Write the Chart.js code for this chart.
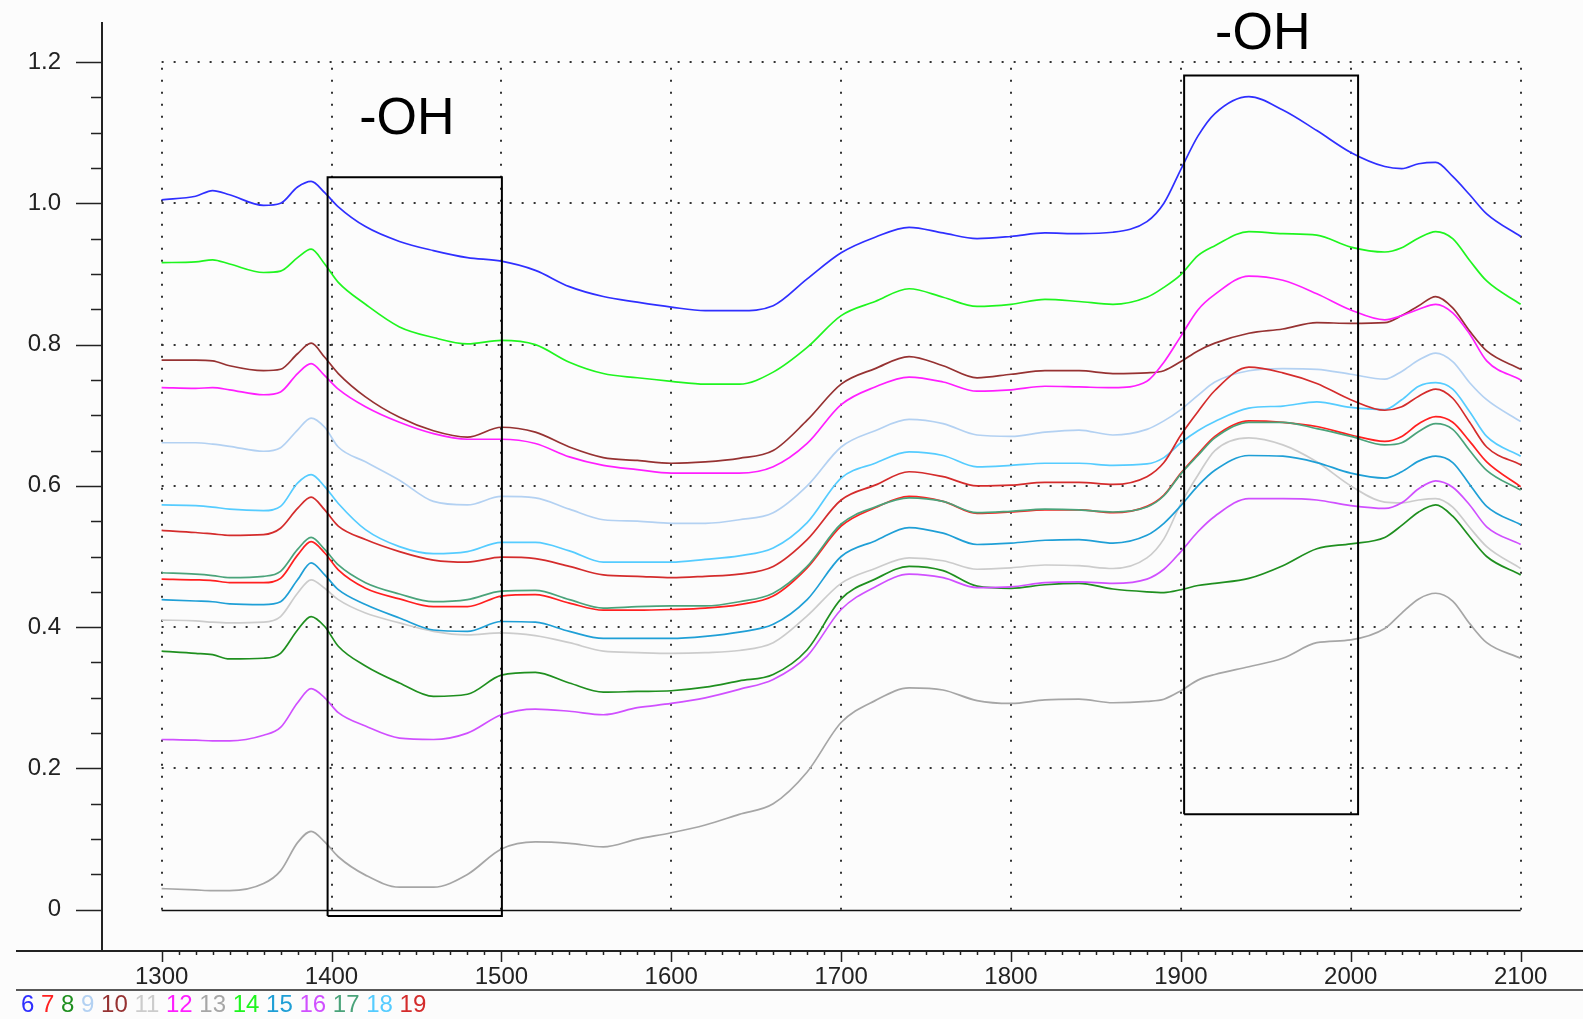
<!DOCTYPE html>
<html>
<head>
<meta charset="utf-8">
<title>NIR spectra 1300-2100 nm</title>
<script src="https://cdn.jsdelivr.net/npm/chart.js@4.4.1/dist/chart.umd.min.js"></script>
<style>
  html, body { margin: 0; padding: 0; background: #fcfcfc; }
  #wrap { position: relative; width: 1583px; height: 1019px; }
</style>
</head>
<body>
<div id="wrap"><canvas id="spectra"></canvas></div>
<script>
// wavelength grid (nm) shared by every spectrum
const wavelengths = [1300,1320,1330,1340,1360,1370,1380,1388,1396,1404,1420,1440,1460,1480,1500,1520,1540,1560,1580,1600,1620,1640,1660,1680,1700,1720,1740,1760,1780,1800,1820,1840,1860,1880,1890,1900,1910,1920,1940,1960,1980,2000,2020,2030,2040,2050,2060,2070,2080,2100];

const s6  = [1.005,1.010,1.018,1.012,0.997,1.000,1.023,1.031,1.015,0.995,0.967,0.946,0.933,0.923,0.918,0.905,0.882,0.868,0.860,0.853,0.848,0.848,0.855,0.893,0.930,0.952,0.966,0.958,0.950,0.953,0.958,0.957,0.959,0.974,1.000,1.048,1.095,1.127,1.151,1.132,1.103,1.072,1.052,1.049,1.056,1.058,1.038,1.012,0.985,0.953];
const s7  = [0.468,0.467,0.466,0.463,0.463,0.469,0.502,0.521,0.505,0.481,0.455,0.440,0.429,0.429,0.444,0.446,0.434,0.424,0.424,0.425,0.427,0.432,0.444,0.484,0.543,0.569,0.585,0.578,0.561,0.563,0.566,0.566,0.562,0.571,0.587,0.618,0.645,0.670,0.692,0.690,0.684,0.672,0.663,0.670,0.688,0.698,0.690,0.663,0.634,0.599];
const s8  = [0.366,0.363,0.361,0.355,0.356,0.363,0.396,0.415,0.401,0.373,0.345,0.321,0.302,0.305,0.332,0.336,0.321,0.308,0.309,0.310,0.315,0.324,0.333,0.368,0.440,0.468,0.486,0.480,0.458,0.455,0.460,0.462,0.454,0.450,0.449,0.453,0.459,0.462,0.469,0.487,0.511,0.518,0.527,0.544,0.563,0.573,0.557,0.528,0.500,0.474];
const s9  = [0.661,0.661,0.659,0.656,0.649,0.654,0.679,0.696,0.683,0.655,0.634,0.608,0.578,0.573,0.585,0.583,0.567,0.552,0.550,0.547,0.547,0.552,0.562,0.600,0.655,0.678,0.694,0.688,0.672,0.670,0.676,0.679,0.672,0.680,0.692,0.708,0.728,0.747,0.763,0.766,0.765,0.758,0.751,0.762,0.778,0.788,0.776,0.746,0.722,0.691];
const s10 = [0.778,0.778,0.777,0.770,0.763,0.765,0.787,0.802,0.782,0.759,0.726,0.697,0.678,0.669,0.683,0.676,0.655,0.640,0.636,0.632,0.634,0.639,0.650,0.693,0.744,0.766,0.783,0.770,0.753,0.758,0.763,0.763,0.759,0.760,0.763,0.776,0.791,0.802,0.816,0.822,0.831,0.830,0.831,0.841,0.855,0.868,0.852,0.819,0.791,0.765];
const s11 = [0.410,0.409,0.407,0.406,0.407,0.415,0.448,0.467,0.455,0.439,0.420,0.406,0.394,0.389,0.392,0.388,0.378,0.366,0.364,0.363,0.364,0.367,0.378,0.416,0.462,0.483,0.498,0.494,0.482,0.484,0.488,0.487,0.483,0.498,0.525,0.575,0.615,0.650,0.668,0.658,0.634,0.600,0.577,0.576,0.580,0.582,0.570,0.541,0.514,0.483];
const s12 = [0.739,0.738,0.739,0.736,0.729,0.733,0.759,0.773,0.756,0.737,0.712,0.690,0.674,0.666,0.666,0.660,0.641,0.629,0.623,0.618,0.618,0.618,0.627,0.660,0.715,0.740,0.754,0.747,0.734,0.736,0.741,0.740,0.739,0.748,0.775,0.812,0.849,0.871,0.897,0.891,0.872,0.849,0.835,0.841,0.850,0.857,0.845,0.815,0.777,0.750];
const s13 = [0.030,0.028,0.027,0.027,0.037,0.055,0.095,0.111,0.096,0.075,0.049,0.032,0.032,0.050,0.086,0.096,0.094,0.089,0.100,0.109,0.120,0.135,0.150,0.195,0.265,0.296,0.314,0.311,0.296,0.292,0.297,0.298,0.293,0.295,0.298,0.310,0.325,0.333,0.344,0.356,0.378,0.382,0.398,0.420,0.440,0.448,0.437,0.405,0.378,0.356];
const s14 = [0.916,0.917,0.920,0.914,0.902,0.904,0.923,0.935,0.914,0.888,0.857,0.825,0.810,0.801,0.806,0.800,0.775,0.759,0.753,0.748,0.744,0.744,0.761,0.796,0.841,0.861,0.879,0.867,0.854,0.857,0.864,0.861,0.857,0.867,0.881,0.899,0.926,0.940,0.960,0.957,0.955,0.938,0.931,0.937,0.951,0.960,0.950,0.919,0.890,0.857];
const s15 = [0.439,0.437,0.436,0.433,0.432,0.436,0.467,0.491,0.474,0.453,0.432,0.413,0.396,0.394,0.408,0.407,0.394,0.384,0.384,0.384,0.387,0.393,0.404,0.439,0.500,0.522,0.541,0.533,0.517,0.519,0.523,0.524,0.519,0.530,0.547,0.572,0.600,0.622,0.643,0.642,0.633,0.618,0.611,0.620,0.635,0.642,0.633,0.602,0.571,0.545];
const s16 = [0.241,0.240,0.239,0.239,0.247,0.258,0.293,0.313,0.300,0.279,0.260,0.243,0.241,0.250,0.276,0.284,0.281,0.276,0.286,0.292,0.300,0.312,0.326,0.359,0.425,0.457,0.475,0.470,0.456,0.457,0.463,0.464,0.462,0.468,0.482,0.507,0.535,0.557,0.582,0.582,0.580,0.572,0.568,0.576,0.596,0.607,0.598,0.573,0.542,0.517];
const s17 = [0.477,0.475,0.473,0.470,0.472,0.479,0.510,0.527,0.510,0.488,0.463,0.447,0.436,0.439,0.451,0.452,0.439,0.427,0.429,0.430,0.430,0.436,0.448,0.486,0.546,0.570,0.583,0.578,0.562,0.564,0.567,0.566,0.563,0.570,0.586,0.617,0.643,0.668,0.690,0.690,0.681,0.670,0.658,0.661,0.677,0.688,0.680,0.650,0.622,0.594];
const s18 = [0.573,0.572,0.570,0.567,0.565,0.571,0.604,0.616,0.599,0.575,0.538,0.514,0.504,0.507,0.520,0.520,0.508,0.492,0.492,0.492,0.496,0.501,0.512,0.548,0.611,0.632,0.648,0.643,0.627,0.629,0.632,0.632,0.629,0.631,0.640,0.661,0.678,0.691,0.710,0.713,0.719,0.711,0.708,0.722,0.741,0.746,0.737,0.705,0.670,0.642];
const s19 = [0.537,0.534,0.532,0.530,0.531,0.540,0.568,0.584,0.566,0.543,0.524,0.507,0.495,0.492,0.499,0.497,0.486,0.474,0.472,0.470,0.472,0.475,0.486,0.524,0.580,0.601,0.620,0.613,0.600,0.601,0.605,0.605,0.602,0.613,0.633,0.672,0.705,0.735,0.768,0.760,0.745,0.722,0.707,0.712,0.727,0.737,0.724,0.690,0.655,0.630];

const sampleNames  = ['6','7','8','9','10','11','12','13','14','15','16','17','18','19'];
const sampleValues = [s6, s7, s8, s9, s10, s11, s12, s13, s14, s15, s16, s17, s18, s19];
const sampleColors = ['#2f2fff','#ff2020','#1f8f1f','#b3d1f2','#963232','#cccccc','#ff1fff',
                      '#a6a6a6','#1ff51f','#1f9fd6','#d050ff','#4aa37a','#55ccff','#d42c2c'];

const xTickValues = [1300,1400,1500,1600,1700,1800,1900,2000,2100];
const yTickValues = [0,0.2,0.4,0.6,0.8,1.0,1.2];

// -OH absorption windows and their captions (data units)
const ohBoxes  = [
  { x0: 1397.7, x1: 1500.3, y0: -0.009, y1: 1.037 },
  { x0: 1901.9, x1: 2004.3, y0: 0.135,  y1: 1.181 }
];
const ohLabels = [
  { x: 1444.4, y: 1.098, text: '-OH' },
  { x: 1948.2, y: 1.219, text: '-OH' }
];

const FONT = '"Liberation Sans", Arial, sans-serif';
const INK = '#222';

function strokeLine(ctx, x1, y1, x2, y2) {
  ctx.beginPath();
  ctx.moveTo(x1, y1);
  ctx.lineTo(x2, y2);
  ctx.stroke();
}

const spectraFrame = {
  id: 'spectraFrame',
  beforeDraw(chart) {
    const { ctx, width, height } = chart;
    ctx.save();
    ctx.fillStyle = '#fcfcfc';
    ctx.fillRect(0, 0, width, height);
    ctx.restore();
  },
  beforeDatasetsDraw(chart) {
    const { ctx, scales: { x, y } } = chart;
    const left = x.getPixelForValue(xTickValues[0]);
    const right = x.getPixelForValue(xTickValues[xTickValues.length - 1]);
    const bottom = y.getPixelForValue(yTickValues[0]);
    const top = y.getPixelForValue(yTickValues[yTickValues.length - 1]);

    ctx.save();
    // dotted grid, only inside the measured range
    ctx.strokeStyle = '#333';
    ctx.lineWidth = 2;
    ctx.setLineDash([2, 10]);
    yTickValues.slice(1).forEach(v => {
      const py = Math.round(y.getPixelForValue(v));
      strokeLine(ctx, left, py, right, py);
    });
    xTickValues.forEach(v => {
      const px = Math.round(x.getPixelForValue(v));
      strokeLine(ctx, px, bottom, px, top);
    });
    // baseline at zero is solid
    ctx.setLineDash([]);
    ctx.lineWidth = 1.5;
    ctx.strokeStyle = '#111';
    strokeLine(ctx, left, Math.round(bottom) + 0.5, right, Math.round(bottom) + 0.5);
    ctx.restore();
  },
  afterDraw(chart) {
    const { ctx, width, chartArea, scales: { x, y } } = chart;
    ctx.save();
    ctx.strokeStyle = INK;

    // axis lines
    ctx.lineWidth = 2;
    strokeLine(ctx, chartArea.left, chartArea.top, chartArea.left, chartArea.bottom);
    strokeLine(ctx, 16, chartArea.bottom, width, chartArea.bottom);
    ctx.lineWidth = 1.5;
    strokeLine(ctx, 16, 990, width, 990);

    // y tick marks: long at labels, short every 0.05
    ctx.lineWidth = 1.5;
    for (let k = 0; k <= 24; k++) {
      const py = Math.round(y.getPixelForValue(k * 0.05)) + 0.5;
      const len = k % 4 === 0 ? 26 : 11;
      strokeLine(ctx, chartArea.left - len, py, chartArea.left, py);
    }
    // x tick marks: long every 100 nm, short every 10 nm
    for (let w = xTickValues[0]; w <= xTickValues[xTickValues.length - 1]; w += 10) {
      const px = Math.round(x.getPixelForValue(w)) + 0.5;
      const len = w % 100 === 0 ? 11 : 4;
      strokeLine(ctx, px, chartArea.bottom, px, chartArea.bottom + len);
    }

    // sample legend as coloured numbers
    ctx.font = '24px ' + FONT;
    ctx.textBaseline = 'alphabetic';
    ctx.textAlign = 'left';
    const gap = ctx.measureText(' ').width;
    let lx = 21;
    sampleNames.forEach((name, i) => {
      ctx.fillStyle = sampleColors[i];
      ctx.fillText(name, lx, 1012);
      lx += ctx.measureText(name).width + gap;
    });

    // -OH captions
    ctx.font = '52px ' + FONT;
    ctx.textAlign = 'center';
    ctx.fillStyle = '#000';
    ohLabels.forEach(l => {
      ctx.fillText(l.text, x.getPixelForValue(l.x), y.getPixelForValue(l.y));
    });
    ctx.restore();
  }
};

const spectraSets = sampleValues.map((vals, i) => ({
  label: sampleNames[i],
  data: wavelengths.map((w, j) => ({ x: w, y: vals[j] })),
  borderColor: sampleColors[i],
  borderWidth: 1.7,
  pointRadius: 0,
  cubicInterpolationMode: 'monotone',
  fill: false,
  order: 100 - Number(sampleNames[i])
}));

const boxSets = ohBoxes.map(b => ({
  label: 'OH band',
  data: [
    { x: b.x0, y: b.y0 }, { x: b.x0, y: b.y1 },
    { x: b.x1, y: b.y1 }, { x: b.x1, y: b.y0 }, { x: b.x0, y: b.y0 }
  ],
  borderColor: '#000',
  borderWidth: 2,
  pointRadius: 0,
  tension: 0,
  fill: false,
  order: 0
}));

// scales report no label overhang, so the plot box sits exactly where it is put
function noOverhang(s) {
  s.paddingTop = 0;
  s.paddingBottom = 0;
  s.paddingLeft = 0;
  s.paddingRight = 0;
}

new Chart(document.getElementById('spectra'), {
  type: 'line',
  data: { datasets: [...spectraSets, ...boxSets] },
  plugins: [spectraFrame],
  options: {
    responsive: true,
    maintainAspectRatio: false,
    animation: false,
    events: [],
    layout: { padding: { top: 22, left: 0, right: 0, bottom: 0 } },
    plugins: {
      legend: { display: false },
      tooltip: { enabled: false }
    },
    scales: {
      x: {
        type: 'linear',
        min: 1264.9,
        max: 2136.7,
        afterBuildTicks: s => { s.ticks = xTickValues.map(v => ({ value: v })); },
        afterFit: s => { s.height = 68; noOverhang(s); },
        grid: { display: false, drawTicks: false },
        border: { display: false },
        ticks: {
          autoSkip: false,
          maxRotation: 0,
          padding: 12,
          color: INK,
          font: { family: FONT, size: 24 },
          callback: v => String(v)
        }
      },
      y: {
        type: 'linear',
        min: -0.0584,
        max: 1.2566,
        afterBuildTicks: s => { s.ticks = yTickValues.map(v => ({ value: v })); },
        afterFit: s => { s.width = 102; noOverhang(s); },
        grid: { display: false, drawTicks: false },
        border: { display: false },
        ticks: {
          padding: 41,
          color: INK,
          font: { family: FONT, size: 24 },
          callback: v => (v === 0 ? '0' : v.toFixed(1))
        }
      }
    }
  }
});
</script>
</body>
</html>
